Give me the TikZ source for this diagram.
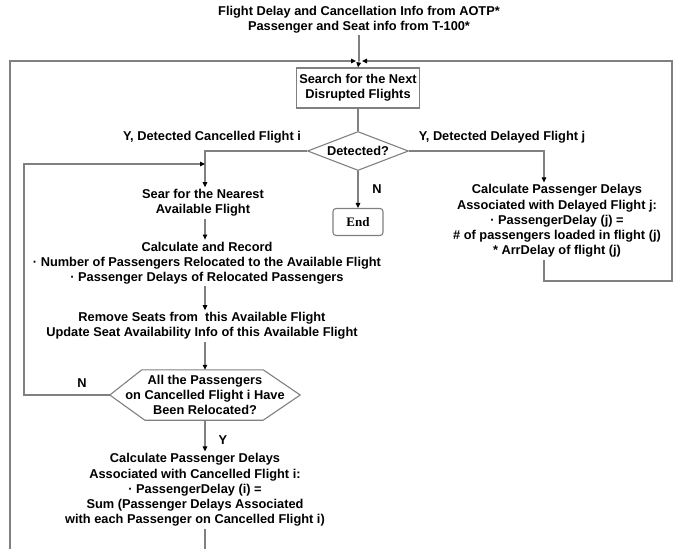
\documentclass[tikz,border=0pt]{standalone}
\usepackage{fontspec}
\setmainfont{Liberation Sans}
\newfontfamily\endfont{Liberation Serif}
\usetikzlibrary{arrows.meta,shapes.geometric}
\definecolor{linegray}{gray}{0.5}
\begin{document}
\begin{tikzpicture}[x=1pt,y=-1pt,
  every node/.style={font=\bfseries\fontsize{12.8}{15.2}\selectfont, align=center, inner sep=2pt},
  flow/.style={draw=linegray, line width=1.1pt},
  arr/.style={flow, -{Triangle[length=5pt,width=4.5pt,color=black]}},
  procbox/.style={draw=linegray, line width=1.1pt, minimum width=123pt, minimum height=40pt},
  decision/.style={draw=linegray, line width=1.1pt, shape=diamond, aspect=2.6,
    minimum width=101pt, minimum height=39pt, inner sep=0pt},
  endbox/.style={draw=linegray, line width=1.1pt, rounded corners=3pt,
    minimum width=50pt, minimum height=27pt, font=\endfont\bfseries\fontsize{13}{15}\selectfont},
  hexa/.style={minimum width=190pt, minimum height=50pt, inner sep=0pt}
]
\useasboundingbox (0,0) rectangle (680,549);

% inputs and main search step
\node (title) at (359,19.5) {Flight Delay and Cancellation Info from AOTP*\\Passenger and Seat info from T-100*};
\coordinate (J) at (359,61);
\node[procbox] (search) at (358,88) {Search for the Next\\Disrupted Flights};
\node[decision] (det) at (358,151) {Detected?};
\node (lblC) at (212,137) {Y, Detected Cancelled Flight i};
\node (lblD) at (502,137) {Y, Detected Delayed Flight j};
\node[endbox] (end) at (358,222) {End};
\node (lblN) at (377,189) {N};

% cancelled flight branch
\coordinate (cL) at (205,151);
\coordinate (loopIn) at (205,164);
\node (sear) at (203,203) {Sear for the Nearest\\Available Flight};
\node (calc) at (207,263) {Calculate and Record\\· Number of Passengers Relocated to the Available Flight\\· Passenger Delays of Relocated Passengers};
\node (remove) at (202,326) {Remove Seats from\ \ this Available Flight\\Update Seat Availability Info of this Available Flight};
\node[hexa] (hex) at (205,395) {All the Passengers\\on Cancelled Flight i Have\\Been Relocated?};
\draw[flow] (hex.west) -- ([xshift=32pt]hex.north west) -- ([xshift=-37pt]hex.north east)
  -- (hex.east) -- ([xshift=-37pt]hex.south east) -- ([xshift=35pt]hex.south west) -- cycle;
\node (lblN2) at (82,383) {N};
\node (lblY) at (223,440) {Y};
\node (final) at (195,490) {Calculate Passenger Delays\\Associated with Cancelled Flight i:\\· PassengerDelay (i) =\\Sum (Passenger Delays Associated\\with each Passenger on Cancelled Flight i)};
\coordinate (loopL) at (24,395);
\coordinate (bottom) at (205,549);

% delayed flight branch
\coordinate (cR) at (544,151);
\node (delay) at (557,221) {Calculate Passenger Delays\\Associated with Delayed Flight j:\\· PassengerDelay (j) =\\\# of passengers loaded in flight (j)\\* ArrDelay of flight (j)};
\coordinate (rB) at (544,281);
\coordinate (rBR) at (672,281);
\coordinate (rTR) at (672,61);

% outer return paths
\coordinate (lB) at (10,549);
\coordinate (lT) at (10,61);

% connectors
\draw[flow] (title.south -| J) -- (J);
\draw[arr] (J) -- (search.north);
\draw[flow] (search.south) -- (det.north);
\draw[arr] (det.south) -- (end.north);
\draw[arr] (det.west) -- (cL) -- (sear.north -| cL);
\draw[arr] (det.east) -- (cR) -- (delay.north -| cR);
\draw[arr] (sear.south -| cL) -- (calc.north -| cL);
\draw[arr] (calc.south -| cL) -- (remove.north -| cL);
\draw[arr] (remove.south -| cL) -- (hex.north -| cL);
\draw[arr] (hex.west) -- (loopL) -- (loopL |- loopIn) -- (loopIn);
\draw[arr] (hex.south -| cL) -- (final.north -| cL);
\draw[flow] (final.south -| cL) -- (bottom);
\draw[arr] (delay.south -| cR) -- (rB) -- (rBR) -- (rTR) -- ([xshift=3pt]J);
\draw[arr] (lB) -- (lT) -- ([xshift=-3pt]J);
\end{tikzpicture}
\end{document}
